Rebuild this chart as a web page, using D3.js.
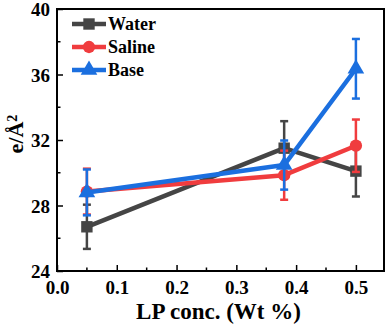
<!DOCTYPE html>
<html>
<head>
<meta charset="utf-8">
<script src="https://cdn.jsdelivr.net/npm/d3@7"></script>
<style>
  body { margin: 0; background: #fff; }
  svg { display: block; }
</style>
</head>
<body>
<div id="chart"></div>
<script>
// LP concentration (Wt %)
const conc = [0.05, 0.38, 0.5];
const seriesNames = ["Water", "Saline", "Base"];
const waterVals = [26.7, 31.5, 30.1];
const waterErr = [1.35, 1.65, 1.55];
const salineVals = [28.85, 29.85, 31.65];
const salineErr = [1.4, 1.5, 1.6];
const baseVals = [28.8, 30.47, 36.35];
const baseErr = [1.4, 1.5, 1.82];
const yTicks = [24, 28, 32, 36, 40];
const xTicks = [0.0, 0.1, 0.2, 0.3, 0.4, 0.5];

const width = 387, height = 325;
const plotLeft = 57, plotRight = 384, plotTop = 9, plotBottom = 271;
const serifFont = '"Liberation Serif"';

const colors = {Water: "#454545", Saline: "#f03c3e", Base: "#1b6fdf"};
const shapes = {Water: d3.symbolSquare, Saline: d3.symbolCircle, Base: d3.symbolTriangle};
const sizes = {Water: 130, Saline: 120, Base: 120};

const series = [
	{name: "Water", vals: waterVals, err: waterErr},
	{name: "Saline", vals: salineVals, err: salineErr},
	{name: "Base", vals: baseVals, err: baseErr}
];

let x = d3.scaleLinear().domain([0, 0.547]).range([plotLeft, plotRight]);
let y = d3.scaleLinear().domain([24, 40]).range([plotBottom, plotTop]);

const svg = d3.select("#chart").append("svg")
	.attr("width", width)
	.attr("height", height);

// frame
svg.append("rect")
	.attr("x", plotLeft).attr("y", plotTop)
	.attr("width", plotRight - plotLeft).attr("height", plotBottom - plotTop)
	.attr("fill", "none").attr("stroke", "#000").attr("stroke-width", 2);

// minor ticks
let xMinor = d3.range(0.05, 0.55, 0.1);
svg.append("g").selectAll("line").data(xMinor).join("line")
	.attr("x1", d => x(d)).attr("x2", d => x(d))
	.attr("y1", plotBottom).attr("y2", plotBottom - 3.5)
	.attr("stroke", "#000").attr("stroke-width", 1.5);
let yMinor = [26, 30, 34, 38];
svg.append("g").selectAll("line").data(yMinor).join("line")
	.attr("x1", plotLeft).attr("x2", plotLeft + 3.5)
	.attr("y1", d => y(d)).attr("y2", d => y(d))
	.attr("stroke", "#000").attr("stroke-width", 1.5);

// axes
const xAxis = svg.append("g")
	.attr("transform", `translate(0,${plotBottom})`)
	.call(d3.axisBottom(x).tickValues(xTicks).tickFormat(d3.format(".1f")).tickSizeInner(-6).tickSizeOuter(0).tickPadding(9));
const yAxis = svg.append("g")
	.attr("transform", `translate(${plotLeft},0)`)
	.call(d3.axisLeft(y).tickValues(yTicks).tickSizeInner(-6).tickSizeOuter(0).tickPadding(7));

[xAxis, yAxis].forEach(a => {
	a.attr("font-family", "Liberation Serif").attr("font-size", 19).attr("font-weight", "bold");
	a.select(".domain").remove();
	a.selectAll(".tick line").attr("stroke-width", 1.5);
	a.selectAll(".tick text")
		.style("font-family", serifFont)
		.style("font-weight", "bold")
		.style("font-size", "19px")
		.attr("fill", "#000");
});
xAxis.selectAll(".tick text").attr("dy", "0.72em");
yAxis.selectAll(".tick text").attr("dy", "0.36em");

// axis titles
svg.append("text")
	.attr("x", (plotLeft + plotRight) / 2 - 2)
	.attr("y", 319)
	.attr("text-anchor", "middle")
	.style("font-family", serifFont)
	.style("font-weight", "bold")
	.style("font-size", "23px")
	.text("LP conc. (Wt %)");

const yTitle = svg.append("text")
	.attr("transform", "translate(23,134) rotate(-90)")
	.attr("text-anchor", "middle")
	.style("font-family", serifFont)
	.style("font-weight", "bold")
	.style("font-size", "22px");
yTitle.append("tspan").text("e/Å");
yTitle.append("tspan").attr("dy", "-0.45em").style("font-size", "14px").text("2");

// series
let line = d3.line().x(d => x(d[0])).y(d => y(d[1]));
series.forEach(s => {
	const c = colors[s.name];
	const g = svg.append("g");
	const pts = conc.map((v, i) => [v, s.vals[i], s.err[i]]);

	g.append("path")
		.datum(pts)
		.attr("fill", "none")
		.attr("stroke", c)
		.attr("stroke-width", 4.5)
		.attr("stroke-linejoin", "round")
		.attr("d", line);

	// error bars
	const eb = g.append("g").selectAll("g").data(pts).join("g")
		.attr("stroke", c).attr("stroke-width", 2.5);
	eb.append("line")
		.attr("x1", d => x(d[0])).attr("x2", d => x(d[0]))
		.attr("y1", d => y(d[1] - d[2])).attr("y2", d => y(d[1] + d[2]));
	eb.append("line")
		.attr("x1", d => x(d[0]) - 4).attr("x2", d => x(d[0]) + 4)
		.attr("y1", d => y(d[1] - d[2])).attr("y2", d => y(d[1] - d[2]));
	eb.append("line")
		.attr("x1", d => x(d[0]) - 4).attr("x2", d => x(d[0]) + 4)
		.attr("y1", d => y(d[1] + d[2])).attr("y2", d => y(d[1] + d[2]));

	g.append("g").selectAll("path").data(pts).join("path")
		.attr("transform", d => `translate(${x(d[0])},${y(d[1])})`)
		.attr("d", d3.symbol(shapes[s.name], sizes[s.name]))
		.attr("fill", c);
});

// legend
const legend = svg.append("g").selectAll("g").data(seriesNames).join("g")
	.attr("transform", (d, i) => `translate(0,${24 + i * 23})`);
legend.append("line")
	.attr("x1", 72).attr("x2", 106)
	.attr("stroke", d => colors[d]).attr("stroke-width", 4.5);
legend.append("path")
	.attr("transform", "translate(89,0)")
	.attr("d", d => d3.symbol(shapes[d], sizes[d])())
	.attr("fill", d => colors[d]);
legend.append("text")
	.attr("x", 108).attr("dy", "0.35em")
	.style("font-family", serifFont)
	.style("font-weight", "bold")
	.style("font-size", "18px")
	.text(d => d);
</script>
</body>
</html>
